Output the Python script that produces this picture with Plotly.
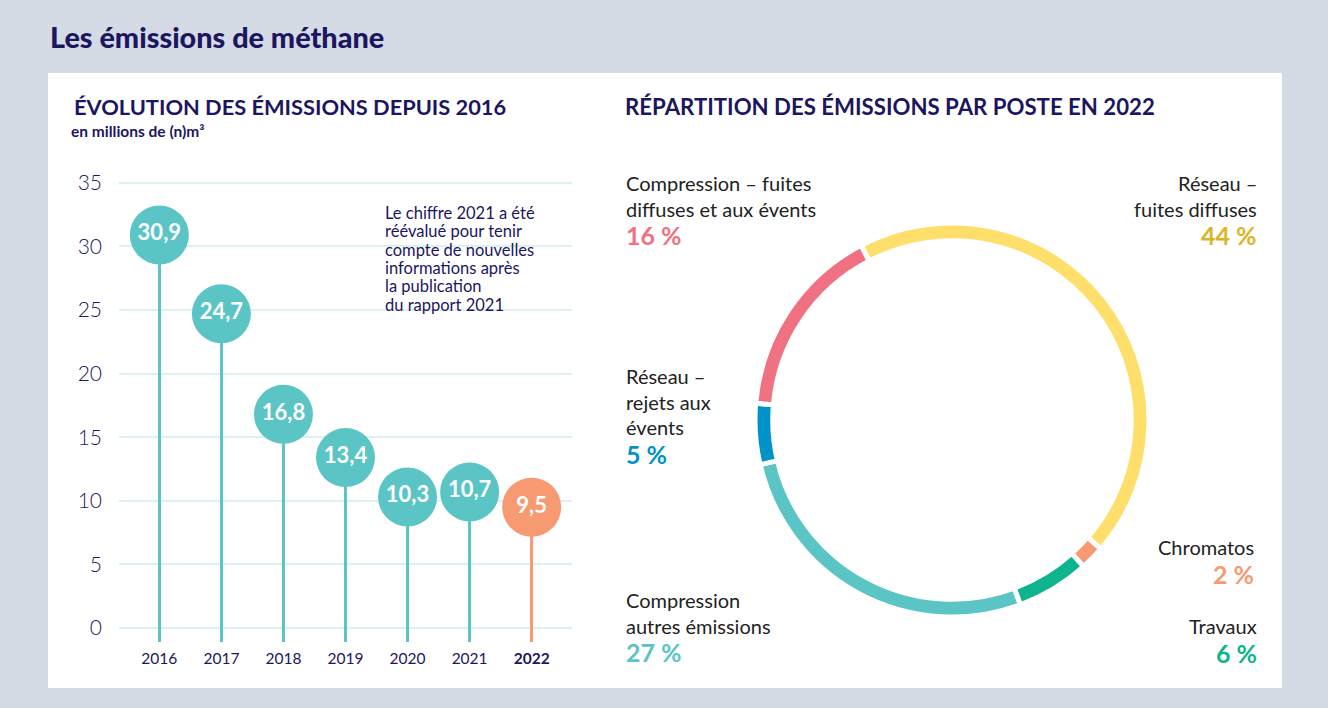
import plotly.graph_objects as go

# ---------------- data ----------------
years = ["2016", "2017", "2018", "2019", "2020", "2021", "2022"]
emissions = [30.9, 24.7, 16.8, 13.4, 10.3, 10.7, 9.5]
value_labels = ["30,9", "24,7", "16,8", "13,4", "10,3", "10,7", "9,5"]
year_ticktext = ["2016", "2017", "2018", "2019", "2020", "2021", "<b>2022</b>"]
y_ticks = [0, 5, 10, 15, 20, 25, 30, 35]

postes = ["Réseau – fuites diffuses", "Chromatos", "Travaux",
          "Compression autres émissions", "Réseau – rejets aux évents",
          "Compression – fuites diffuses et aux évents"]
shares = [44, 2, 6, 27, 5, 16]

note_lines = ["Le chiffre 2021 a été", "réévalué pour tenir", "compte de nouvelles",
              "informations après", "la publication", "du rapport 2021"]

# ---------------- styles ----------------
W, H = 1328, 708
NAVY = "#1c1660"
DARK = "#222222"
TEAL = "#5bc5c6"
ORANGE = "#f79a72"
lolli_colors = [TEAL] * 6 + [ORANGE]
pie_colors = ["#ffdf6b", "#f79a72", "#0db48e", "#5bc5c6", "#0093c9", "#f07282"]
pct_colors = ["#d9b628", "#f79a72", "#0db48e", "#5bc5c6", "#0093c9", "#f07282"]
FONT = "Lato"


def px(x):
    return x / W


def py(y):
    return 1 - y / H


fig = go.Figure()

# stems
fig.add_trace(go.Bar(
    x=years, y=[v + 1.1 for v in emissions], base=-1.1,
    width=0.045, marker=dict(color=lolli_colors, line=dict(width=0)),
    hoverinfo="skip", showlegend=False, xaxis="x", yaxis="y",
))
# heads
fig.add_trace(go.Scatter(
    x=years, y=emissions, mode="markers+text",
    marker=dict(size=59, color=lolli_colors, line=dict(width=0)),
    text=value_labels, textposition="middle center",
    textfont=dict(family=FONT, size=22, color="white", weight="bold"),
    showlegend=False, xaxis="x", yaxis="y",
    hovertemplate="%{x}: %{text}<extra></extra>",
))

# donut
fig.add_trace(go.Pie(
    labels=postes, values=shares, sort=False, direction="clockwise",
    rotation=-27.5, hole=0.91,
    marker=dict(colors=pie_colors, line=dict(color="white", width=5)),
    textinfo="none", showlegend=False,
    domain=dict(x=[px(755), px(1149)], y=[py(617), py(223)]),
    hovertemplate="%{label}: %{value} %<extra></extra>",
))

annotations = []


def txt(x, y, text, size, color, anchor="left", weight="normal"):
    annotations.append(dict(
        x=px(x), y=py(y), xref="paper", yref="paper", text=text,
        showarrow=False, xanchor=anchor, yanchor="middle", align=anchor,
        font=dict(family=FONT, size=size, color=color, weight=weight),
    ))


# titles
txt(48, 37, "Les émissions de méthane", 28.8, NAVY, weight=900)
txt(72, 106, "ÉVOLUTION DES ÉMISSIONS DEPUIS 2016", 21.8, NAVY, weight="bold")
txt(69, 131, "en millions de (n)m³", 15.5, NAVY, weight="bold")
txt(623, 106, "RÉPARTITION DES ÉMISSIONS PAR POSTE EN 2022", 22.2, NAVY, weight="bold")

# note
for i, line in enumerate(note_lines):
    txt(383, 213 + i * 18.3, line, 16.5, NAVY, weight=400)

# donut labels
label_spec = [
    # (lines, x, first-line y, anchor, share index)
    (["Réseau –", "fuites diffuses"], 1259, 183, "right", 0),
    (["Chromatos"], 1256, 547, "right", 1),
    (["Travaux"], 1259, 626, "right", 2),
    (["Compression", "autres émissions"], 624, 600, "left", 3),
    (["Réseau –", "rejets aux", "évents"], 624, 376, "left", 4),
    (["Compression – fuites", "diffuses et aux évents"], 624, 183, "left", 5),
]
for lines, x, y0, anchor, idx in label_spec:
    for i, line in enumerate(lines):
        txt(x, y0 + i * 25.7, line, 20, DARK, anchor=anchor)
    txt(x, y0 + len(lines) * 25.7 + 1, f"{shares[idx]} %", 25,
        pct_colors[idx], anchor=anchor, weight="bold")

fig.update_layout(
    width=W, height=H, margin=dict(l=0, r=0, t=0, b=0),
    paper_bgcolor="#d4dbe5", plot_bgcolor="rgba(0,0,0,0)",
    annotations=annotations,
    bargap=0,
    shapes=[dict(type="rect", xref="paper", yref="paper",
                 x0=px(48), x1=px(1282), y0=py(688), y1=py(73),
                 fillcolor="white", line=dict(width=0), layer="below")],
    xaxis=dict(domain=[px(119), px(572)], range=[-0.65, 6.65],
               tickvals=years, ticktext=year_ticktext, showgrid=False,
               zeroline=False, showline=False, ticks="",
               ticklabelstandoff=5,
               tickfont=dict(family=FONT, size=15.5, color=NAVY),
               fixedrange=True),
    yaxis=dict(domain=[py(642), py(170)], range=[-1.1, 36],
               tickvals=y_ticks, showgrid=True, gridcolor="#dcf2f2",
               gridwidth=1.5, zeroline=False, showline=False, ticks="",
               ticklabelstandoff=16,
               tickfont=dict(family=FONT, size=21, color=NAVY, weight=300),
               fixedrange=True),
)

fig.write_html(
    "out.html",
    config={"displayModeBar": False},
    post_script="document.body.style.margin='0';document.body.style.overflow='hidden';",
)
